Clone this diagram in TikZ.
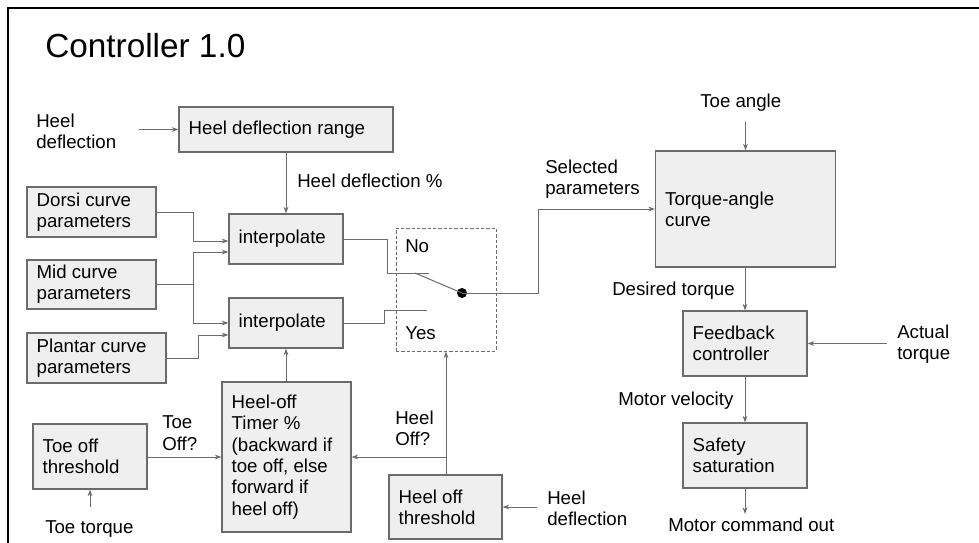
\documentclass[tikz,border=0pt]{standalone}
\usepackage{fontspec}
\setmainfont{Liberation Sans}
\usetikzlibrary{arrows.meta}
\definecolor{boxfill}{HTML}{EFEFEF}
\definecolor{linec}{HTML}{6B6B6B}
\newcommand\mybox[6]{%
  \node[box,minimum width=#4*0.75pt,minimum height=#5*0.75pt] (#1) at (#2,#3) {};
  \node[txt] (#1t) at ([xshift=7.5pt]#1.west) {#6};}
\begin{document}
\begin{tikzpicture}[x=0.75pt,y=-0.75pt,
  every node/.style={font=\fontsize{14}{16}\selectfont},
  box/.style={draw=linec, fill=boxfill, line width=0.9pt, inner sep=0pt},
  txt/.style={inner sep=0pt, align=left, anchor=west},
  lbl/.style={inner sep=0pt, align=left},
  arr/.style={draw=linec, line width=0.75pt, -{Stealth[length=5pt,width=3.6pt]}},
  ln/.style={draw=linec, line width=0.75pt}]
\useasboundingbox (0,0) rectangle (979,543);
% frame
\draw[black, line width=1.5pt] (8,543) -- (8,8) -- (979,8);
% title
\node[lbl, anchor=base west, font=\fontsize{25}{28}\selectfont] (title) at (45,57) {Controller 1.0};

% boxes
\mybox{range}{286}{129.5}{214}{45}{Heel deflection range}
\mybox{dorsi}{91.5}{212}{129}{50}{Dorsi curve\\parameters}
\mybox{mid}{91.5}{284.5}{129}{49}{Mid curve\\parameters}
\mybox{plantar}{96.5}{358}{139}{50}{Plantar curve\\parameters}
\mybox{intA}{286}{239}{114}{50}{interpolate}
\mybox{intB}{286}{323}{114}{50}{interpolate}
\mybox{timer}{286.5}{457}{129}{150}{Heel-off\\Timer \%\\(backward if\\toe off, else\\forward if\\heel off)}
\mybox{toeoff}{90}{456.5}{114}{65}{Toe off\\threshold}
\mybox{heeloff}{445.5}{507}{113}{64}{Heel off\\threshold}
\mybox{torque}{745.5}{209}{180}{116}{Torque-angle\\curve}
\mybox{fb}{745}{343.5}{124}{65}{Feedback\\controller}
\mybox{safety}{745}{455.5}{124}{65}{Safety\\saturation}

% switch
\node[draw=linec, dash pattern=on 2.5pt off 1.5pt, line width=0.75pt,
      minimum width=75pt, minimum height=92.25pt, inner sep=0pt] (sw) at (446,289.5) {};
\node[lbl, anchor=base west] (no) at (405,252) {No};
\node[lbl, anchor=base west] (yes) at (405,339) {Yes};
\node[circle, fill=black, minimum size=7.5pt, inner sep=0pt] (dot) at (462,293) {};
\coordinate (noc) at (429,273);
\coordinate (yesc) at (427,310);
\coordinate (pivot) at (415,273);

% labels
\node[lbl, anchor=west] (hdl) at (36,131) {Heel\\deflection};
\node[lbl, anchor=base west] (hdp) at (297,187) {Heel deflection \%};
\node[lbl, anchor=west] (selp) at (545,179) {Selected\\parameters};
\node[lbl, anchor=base west] (toeang) at (700,107) {Toe angle};
\node[lbl, anchor=base west] (destq) at (612,295) {Desired torque};
\node[lbl, anchor=west] (acttq) at (897,344) {Actual\\torque};
\node[lbl, anchor=base west] (motv) at (618,405) {Motor velocity};
\node[lbl, anchor=base west] (motc) at (668,531) {Motor command out};
\node[lbl, anchor=base west] (toetq) at (45,533) {Toe torque};
\node[lbl, anchor=west] (toeoffq) at (162,433) {Toe\\Off?};
\node[lbl, anchor=west] (heeloffq) at (395,428) {Heel\\Off?};
\node[lbl, anchor=west] (hdl2) at (547,508) {Heel\\deflection};

% free ends
\coordinate (inHD) at (139,129.5);
\coordinate (inTA) at (745.5,122);
\coordinate (inAT) at (887,343.5);
\coordinate (outMC) at (745,514);
\coordinate (inTT) at (90,507);
\coordinate (inHD2) at (537,507);

% connectors
\draw[arr] (inHD) -- (range.west);
\draw[arr] (range.south) -- (intA.north);
\draw[arr] (dorsi.east) -- (193,212) |- ([yshift=-1.5pt]intA.west);
\draw[arr] (mid.east) -- (193,284.5) |- ([yshift=-9.75pt]intA.west);
\draw[arr] (193,284.5) |- (intB.west);
\draw[arr] (plantar.east) -- (198,358) |- ([yshift=-9pt]intB.west);
\draw[arr] (timer.north -| intB.south) -- (intB.south);
\draw[ln] (intA.east) -- (387,239) |- (noc);
\draw[ln] (intB.east) -- (384,323) |- (yesc);
\draw[ln] (pivot) -- (dot.center);
\draw[arr] (dot.center) -- (538,293) |- (torque.west);
\draw[arr] (inTA) -- (torque.north);
\draw[arr] (torque.south -| fb.north) -- (fb.north);
\draw[arr] (inAT) -- (fb.east);
\draw[arr] (fb.south) -- (safety.north);
\draw[arr] (safety.south) -- (outMC);
\draw[arr] (toeoff.east |- timer.west) -- (timer.west);
\draw[arr] (inTT) -- (toeoff.south);
\draw[arr] (heeloff.north -| sw.south) -- (sw.south);
\draw[arr] (446,457) -- (timer.east);
\draw[arr] (inHD2) -- (heeloff.east);
\end{tikzpicture}
\end{document}
